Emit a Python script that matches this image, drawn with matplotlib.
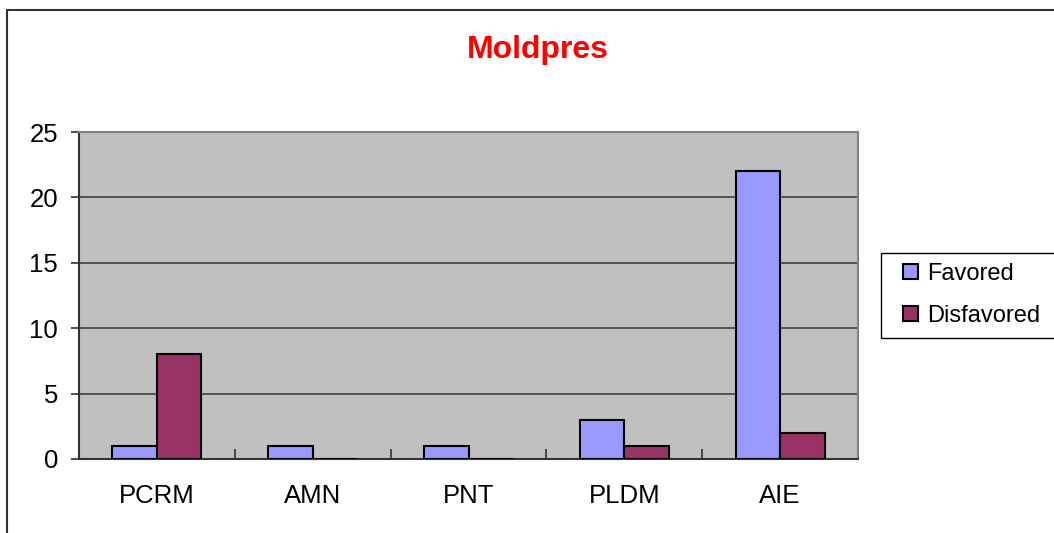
import numpy as np
import matplotlib.pyplot as plt
from matplotlib.patches import Rectangle

plt.rcParams['font.family'] = ['Liberation Sans', 'DejaVu Sans']

categories = ["PCRM", "AMN", "PNT", "PLDM", "AIE"]
favored = [1, 1, 1, 3, 22]
disfavored = [8, 0, 0, 1, 2]
yticks = [0, 5, 10, 15, 20, 25]

W, H = 1054, 533
fig = plt.figure(figsize=(W / 100, H / 100), dpi=100)

# outer chart border, running off the right and bottom edges
fig.patches.append(Rectangle((7 / W, -0.1), 1.2, 1 - 10 / H + 0.1,
                             transform=fig.transFigure, fill=False,
                             edgecolor="#333333", linewidth=1.5))

ax = fig.add_axes([79 / W, 1 - 459 / H, (858 - 79) / W, (459 - 132) / H])
ax.set_facecolor("#C0C0C0")

x = np.arange(len(categories))
w = 1 / 3.5
ax.bar(x - w / 2, favored, w, color="#9999FF", edgecolor="black",
       linewidth=1.5, label="Favored", zorder=3)
ax.bar(x + w / 2, disfavored, w, color="#993366", edgecolor="black",
       linewidth=1.5, label="Disfavored", zorder=3)

ax.set_xlim(-0.5, len(categories) - 0.5)
ax.set_ylim(0, 25)
ax.set_yticks(yticks)
ax.yaxis.grid(True, color="#404040", linewidth=1.2, zorder=1)
ax.set_axisbelow(True)

ax.set_xticks(x)
ax.set_xticklabels(categories)
ax.set_xticks(np.arange(-0.5, len(categories)), minor=True)
ax.tick_params(axis="x", which="major", length=0, pad=18, labelsize=18.5)
ax.tick_params(axis="x", which="minor", direction="in", length=7,
               width=1.2, color="#333333")
ax.tick_params(axis="y", direction="out", length=6, width=1.2,
               color="#333333", pad=9, labelsize=18.5)

for side in ("left", "bottom"):
    ax.spines[side].set_color("#333333")
    ax.spines[side].set_linewidth(1.5)
for side in ("top", "right"):
    ax.spines[side].set_color("#808080")
    ax.spines[side].set_linewidth(1.5)

fig.text(538 / W, 1 - 58 / H, "Moldpres", color="red", fontsize=23,
         fontweight="bold", ha="center", va="baseline")

# legend box, cut off at the right edge; drawn beneath the axes and legend
fig.patches.append(Rectangle((881 / W, 1 - 338 / H), 0.2, 85 / H,
                             transform=fig.transFigure, facecolor="white",
                             edgecolor="black", linewidth=1.0, zorder=-1))
leg = ax.legend(loc="upper left", bbox_to_anchor=(903 / W, 1 - 263 / H),
                bbox_transform=fig.transFigure, borderaxespad=0,
                borderpad=0, frameon=False, fontsize=17,
                handlelength=0.63, handleheight=0.63, handletextpad=0.38,
                labelspacing=0.85)
for patch in leg.get_patches():
    patch.set_linewidth(1.5)

fig.savefig("out.png", dpi=100)
